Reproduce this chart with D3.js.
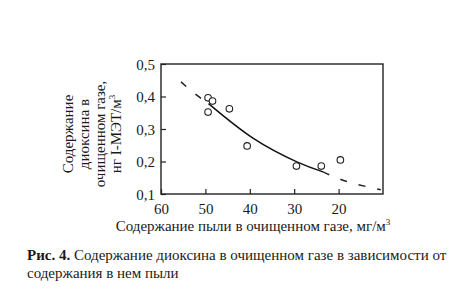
<!DOCTYPE html>
<html>
<head>
<meta charset="utf-8">
<script src="https://cdn.jsdelivr.net/npm/d3@7"></script>
<style>
  body { margin: 0; background: #fff; }
  svg text { font-family: "Liberation Serif", "DejaVu Serif", serif; fill: #1a1a1a; }
</style>
</head>
<body>
<svg width="468" height="296"></svg>
<script>
// dioxin content vs dust content in cleaned gas

// measured points (dust mg/m3, dioxin ng I-TEQ/m3)
var dustValues   = [49.4, 48.4, 49.4, 44.6, 40.6, 29.5, 23.9, 19.6];
var dioxinValues = [0.396, 0.386, 0.352, 0.362, 0.248, 0.186, 0.186, 0.205];

// fitted curve (solid part)
var fitX = [49.3, 39.2, 29.4, 23.5];
var fitY = [0.378, 0.271, 0.199, 0.168];

// extrapolation (dashed parts)
var extLeftX  = [55.5, 52.5, 49.3];
var extLeftY  = [0.445, 0.41, 0.378];
var extRightX = [23.5, 20.5, 16.5, 10.5];
var extRightY = [0.168, 0.150, 0.132, 0.113];

var xTicks = [60, 50, 40, 30, 20];
var yTicks = [0.1, 0.2, 0.3, 0.4, 0.5];

var svg = d3.select("svg");

var plotL = 161, plotR = 383, plotT = 64, plotB = 194;

var xScale = d3.scaleLinear().domain([60, 10]).range([plotL, plotR]),
    yScale = d3.scaleLinear().domain([0.1, 0.5]).range([plotB, plotT]);

var comma = function(d) { return d3.format(".1f")(d).replace(".", ","); };

// frame
svg.append("rect")
   .attr("x", plotL).attr("y", plotT)
   .attr("width", plotR - plotL).attr("height", plotB - plotT)
   .attr("fill", "none")
   .attr("stroke", "#222")
   .attr("stroke-width", 1.4);

// x axis (ticks inside)
var xAxis = d3.axisBottom(xScale).tickValues(xTicks).tickSizeInner(-5).tickSizeOuter(0).tickPadding(9);
var gx = svg.append("g")
   .attr("transform", "translate(0," + plotB + ")")
   .call(xAxis);

// y axis (ticks inside)
var yAxis = d3.axisLeft(yScale).tickValues(yTicks).tickSizeInner(-5).tickSizeOuter(0).tickPadding(6).tickFormat(comma);
var gy = svg.append("g")
   .attr("transform", "translate(" + plotL + ",0)")
   .call(yAxis);

[gx, gy].forEach(function(g) {
    g.select(".domain").remove();
    g.selectAll(".tick line").attr("stroke", "#222").attr("stroke-width", 1.2);
    g.selectAll(".tick text").attr("font-size", 15).attr("fill", "#1a1a1a")
     .style("font-family", "'Liberation Serif', serif");
});
gy.selectAll(".tick text").attr("dy", "0.35em");

// curves
var line = d3.line()
    .x(function(d) { return xScale(d[0]); })
    .y(function(d) { return yScale(d[1]); })
    .curve(d3.curveNatural);

var zip = function(xs, ys) { return xs.map(function(x, i) { return [x, ys[i]]; }); };

[zip(extLeftX, extLeftY), zip(extRightX, extRightY)].forEach(function(pts) {
    svg.append("path")
       .attr("d", line(pts))
       .attr("fill", "none")
       .attr("stroke", "#222")
       .attr("stroke-width", 1.5)
       .attr("stroke-dasharray", "7,12");
});

svg.append("path")
   .attr("d", line(zip(fitX, fitY)))
   .attr("fill", "none")
   .attr("stroke", "#111")
   .attr("stroke-width", 1.5);

// data points
svg.selectAll("circle.pt")
   .data(zip(dustValues, dioxinValues))
   .enter().append("circle")
   .attr("class", "pt")
   .attr("cx", function(d) { return xScale(d[0]); })
   .attr("cy", function(d) { return yScale(d[1]); })
   .attr("r", 3.3)
   .attr("fill", "#fff")
   .attr("stroke", "#222")
   .attr("stroke-width", 1.1);

// x axis title
svg.append("text")
   .attr("x", 253).attr("y", 231)
   .attr("text-anchor", "middle")
   .attr("font-size", 15)
   .html("Содержание пыли в очищенном газе, мг/м<tspan dy='-6' font-size='9'>3</tspan>");

// y axis title (rotated, four lines)
var yTitle = svg.append("text")
   .attr("transform", "translate(73,134) rotate(-90)")
   .attr("text-anchor", "middle")
   .attr("font-size", 15);
var yLines = ["Содержание", "диоксина в", "очищенном газе,", "нг I-МЭТ/м"];
yLines.forEach(function(t, i) {
    yTitle.append("tspan").attr("x", 0).attr("dy", i === 0 ? 0 : 16).text(t);
    if (i === 3) {
        yTitle.append("tspan").attr("dy", -6).attr("font-size", 9).text("3");
    }
});

// caption
var cap = svg.append("text").attr("x", 27).attr("y", 260).attr("font-size", 15);
cap.append("tspan").attr("font-weight", "bold").text("Рис. 4.");
cap.append("tspan").text(" Содержание диоксина в очищенном газе в зависимости от");
svg.append("text").attr("x", 27).attr("y", 278).attr("font-size", 15)
   .text("содержания в нем пыли");
</script>
</body>
</html>
